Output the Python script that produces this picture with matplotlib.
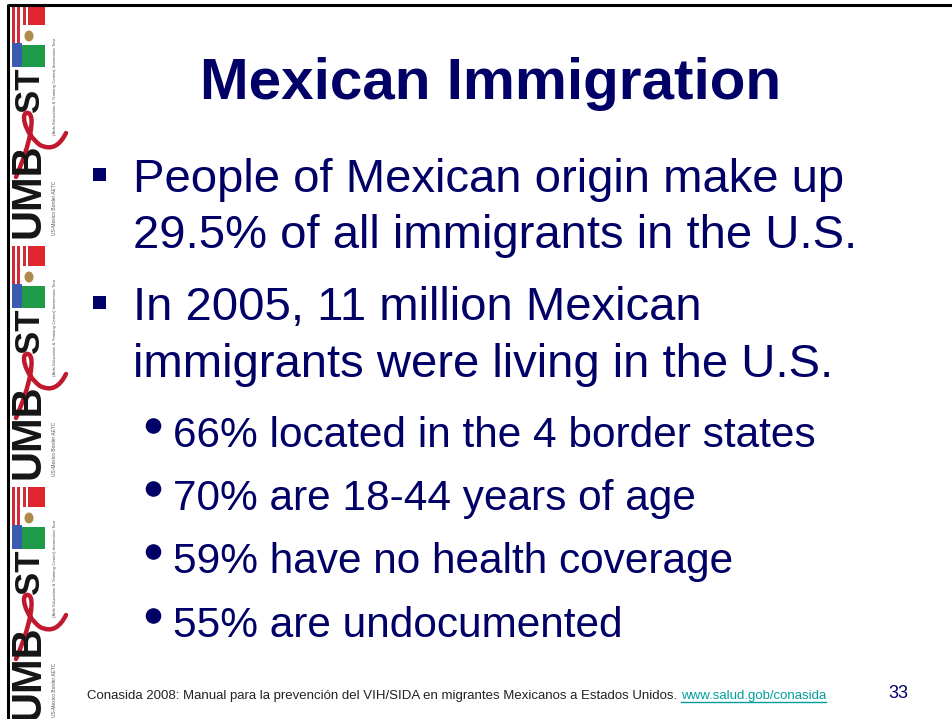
import matplotlib
matplotlib.use('Agg')
import matplotlib.pyplot as plt
from matplotlib.patches import Rectangle, Circle, Ellipse, PathPatch
from matplotlib.path import Path

navy = '#000066'
teal = '#009e9e'

# slide text
title = 'Mexican Immigration'
bullets = ['People of Mexican origin make up', '29.5% of all immigrants in the U.S.',
           'In 2005, 11 million Mexican', 'immigrants were living in the U.S.']
bullet_marks = [True, False, True, False]
bullet_base = [192, 248, 320, 377]
sub_bullets = ['66% located in the 4 border states', '70% are 18-44 years of age',
               '59% have no health coverage', '55% are undocumented']
sub_base = [447, 510, 573, 637]
footer = 'Conasida 2008: Manual para la prevención del VIH/SIDA en migrantes Mexicanos a Estados Unidos.'
footer_url = 'www.salud.gob/conasida'
page_num = '33'

# left logo strip, one tile every ~241 px
tile_tops = [5, 246, 487]

sans = ['Liberation Sans', 'DejaVu Sans']

fig = plt.figure(figsize=(9.52, 7.19), dpi=100)
ax = fig.add_axes([0, 0, 1, 1])
ax.set_xlim(0, 952)
ax.set_ylim(719, 0)
ax.axis('off')

# border
ax.plot([8, 952], [5, 5], color='black', lw=2.2, solid_capstyle='butt')
ax.plot([8, 8], [4, 719], color='black', lw=2.2, solid_capstyle='butt')

# logo strip
for y0 in tile_tops:
    # flag block
    for i in range(7):
        c = '#d42a35' if i % 2 == 0 else 'white'
        ax.add_patch(Rectangle((12 + i * 2.7, y0), 2.7, 38, color=c, lw=0))
    ax.add_patch(Rectangle((12, y0 + 38), 10, 24, color='#3b5bb0', lw=0))
    ax.add_patch(Rectangle((31, y0), 14, 20, color='#e0252d', lw=0))
    ax.add_patch(Rectangle((22, y0 + 20), 23, 20, color='white', lw=0))
    ax.add_patch(Rectangle((22, y0 + 40), 23, 22, color='#1f9a48', lw=0))
    ax.add_patch(Ellipse((29, y0 + 31), 9, 11, color='#b08a4a', lw=0))
    # UMB ST lettering
    ax.text(29, y0 + 233, 'UMB', rotation=90, ha='center', va='bottom',
            fontsize=30, fontweight='bold', family=sans, color='#151515')
    ax.text(29, y0 + 107, 'ST', rotation=90, ha='center', va='bottom',
            fontsize=25, fontweight='bold', family=sans, color='#151515')
    # red ribbon
    verts = [(16, y0 + 172), (30, y0 + 140), (36, y0 + 110), (28, y0 + 108),
             (20, y0 + 106), (24, y0 + 128), (40, y0 + 140), (52, y0 + 146),
             (60, y0 + 140), (66, y0 + 128)]
    codes = [Path.MOVETO] + [Path.CURVE4] * 9
    ax.add_patch(PathPatch(Path(verts, codes), fill=False, ec='#c0182e', lw=3.2,
                           capstyle='round'))
    ax.text(55, y0 + 230, 'US-Mexico Border AETC', rotation=90, ha='center',
            va='bottom', fontsize=3.5, color='#555555', family=sans)
    ax.text(55, y0 + 130, '(Aids Education & Training Center) Immersion Tour',
            rotation=90, ha='center', va='bottom', fontsize=3.2, color='#555555',
            family=sans)

# title
ax.text(491, 99, title, ha='center', va='baseline', fontsize=42,
        fontweight='bold', color=navy, family=sans)

# main bullets
for txt, yb, mark in zip(bullets, bullet_base, bullet_marks):
    ax.text(133, yb, txt, ha='left', va='baseline', fontsize=34, color=navy,
            family=sans)
    if mark:
        ax.add_patch(Rectangle((93, yb - 24), 13, 13, color=navy, lw=0))

# sub bullets
for txt, yb in zip(sub_bullets, sub_base):
    ax.text(173, yb, txt, ha='left', va='baseline', fontsize=30.5, color=navy,
            family=sans)
    ax.add_patch(Circle((153.5, yb - 21), 7.8, color=navy, lw=0))

# footer
ft = ax.text(87, 699, footer + ' ', ha='left', va='baseline', fontsize=9.55,
             color='#222222', family=sans)
fig.canvas.draw()
bb = ft.get_window_extent().transformed(ax.transData.inverted())
ut = ax.text(bb.x1, 699, footer_url, ha='left', va='baseline', fontsize=9.55,
             color=teal, family=sans)
fig.canvas.draw()
ub = ut.get_window_extent().transformed(ax.transData.inverted())
ax.plot([ub.x0, ub.x1], [702, 702], color=teal, lw=1)
ax.text(898, 698, page_num, ha='center', va='baseline', fontsize=13,
        color=navy, family=sans)

fig.savefig('out.png', dpi=100)
